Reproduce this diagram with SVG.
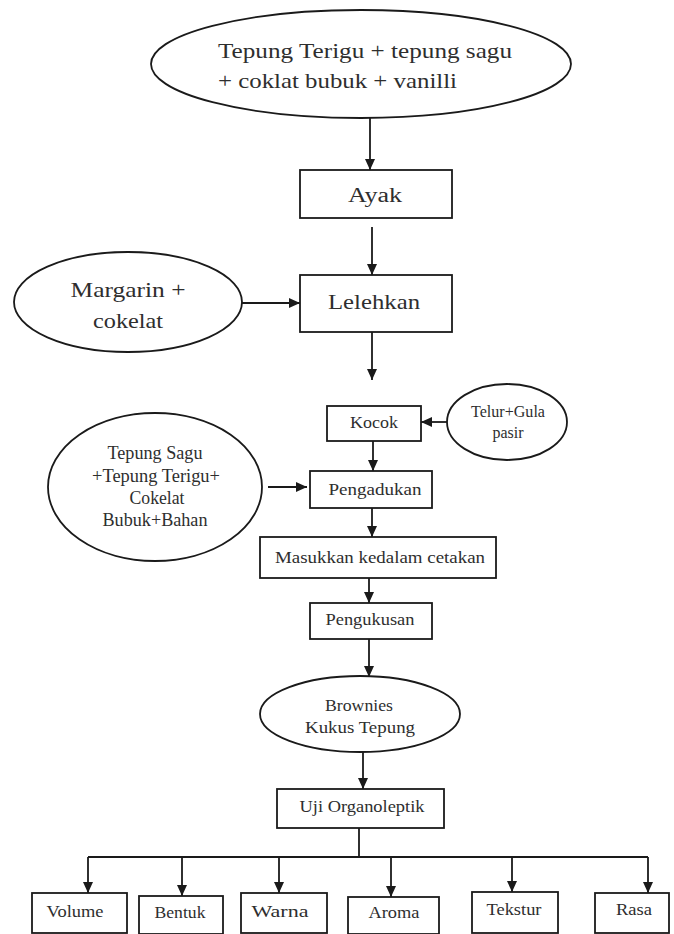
<svg xmlns="http://www.w3.org/2000/svg" width="674" height="934" viewBox="0 0 674 934">
<defs>
<marker id="ah" markerUnits="userSpaceOnUse" markerWidth="12" markerHeight="12" viewBox="0 0 12 12" refX="11" refY="6" orient="auto">
<path d="M0,1 L11,6 L0,11 Z" fill="#1a1a1a"/>
</marker>
<style>
.s{fill:#fff;stroke:#1a1a1a;stroke-width:1.8}
.t{font-family:"Liberation Serif","DejaVu Serif",serif;fill:#2e2e2e;text-anchor:middle}
.l{fill:none;stroke:#1a1a1a;stroke-width:1.8}
.a{fill:none;stroke:#1a1a1a;stroke-width:1.8;marker-end:url(#ah)}
</style>
</defs>
<rect width="674" height="934" fill="#fff"/>
<g id="connectors">
<line class="a" x1="370" y1="118" x2="370" y2="170"/>
<line class="a" x1="372" y1="227" x2="372" y2="275"/>
<line class="a" x1="242" y1="303" x2="300" y2="303"/>
<line class="a" x1="372" y1="332" x2="372" y2="380"/>
<line class="a" x1="447" y1="422" x2="421" y2="422"/>
<line class="a" x1="373" y1="441" x2="373" y2="471"/>
<line class="a" x1="268" y1="487" x2="307" y2="487"/>
<line class="a" x1="372" y1="508" x2="372" y2="537"/>
<line class="a" x1="369" y1="577" x2="369" y2="603"/>
<line class="a" x1="369" y1="639" x2="369" y2="677"/>
<line class="a" x1="363" y1="752" x2="363" y2="789"/>
<line class="l" x1="359" y1="828" x2="359" y2="857"/>
<line class="l" x1="88" y1="857" x2="648" y2="857"/>
<line class="a" x1="88" y1="857" x2="88" y2="893"/>
<line class="a" x1="182" y1="857" x2="182" y2="896"/>
<line class="a" x1="279" y1="857" x2="279" y2="893"/>
<line class="a" x1="391" y1="857" x2="391" y2="897"/>
<line class="a" x1="512" y1="857" x2="512" y2="892"/>
<line class="a" x1="648" y1="857" x2="648" y2="893"/>
</g>
<g id="n-bahan">
<ellipse class="s" cx="361" cy="64" rx="210" ry="54"/>
<text class="t" x="218" y="58" font-size="22" style="text-anchor:start" textLength="294" lengthAdjust="spacingAndGlyphs">Tepung Terigu + tepung sagu</text>
<text class="t" x="218" y="88" font-size="22" style="text-anchor:start" textLength="239" lengthAdjust="spacingAndGlyphs">+ coklat bubuk + vanilli</text>
</g>
<g id="n-ayak">
<rect class="s" x="300" y="170" width="152" height="48"/>
<text class="t" x="375" y="202" font-size="20" textLength="54" lengthAdjust="spacingAndGlyphs">Ayak</text>
</g>
<g id="n-margarin">
<ellipse class="s" cx="128" cy="302" rx="114" ry="50"/>
<text class="t" x="128" y="297" font-size="21" textLength="115" lengthAdjust="spacingAndGlyphs">Margarin +</text>
<text class="t" x="128" y="328" font-size="21" textLength="70" lengthAdjust="spacingAndGlyphs">cokelat</text>
</g>
<g id="n-lelehkan">
<rect class="s" x="300" y="275" width="152" height="57"/>
<text class="t" x="374" y="309" font-size="21" textLength="92" lengthAdjust="spacingAndGlyphs">Lelehkan</text>
</g>
<g id="n-kocok">
<rect class="s" x="327" y="406" width="94" height="35"/>
<text class="t" x="374" y="428" font-size="17" textLength="48" lengthAdjust="spacingAndGlyphs">Kocok</text>
</g>
<g id="n-telur">
<ellipse class="s" cx="507" cy="422" rx="60" ry="38"/>
<text class="t" x="508" y="417" font-size="17" textLength="74" lengthAdjust="spacingAndGlyphs">Telur+Gula</text>
<text class="t" x="508" y="438" font-size="17" textLength="31" lengthAdjust="spacingAndGlyphs">pasir</text>
</g>
<g id="n-sagu">
<ellipse class="s" cx="155" cy="487" rx="107" ry="74"/>
<text class="t" x="155" y="459" font-size="18" textLength="95" lengthAdjust="spacingAndGlyphs">Tepung Sagu</text>
<text class="t" x="156" y="482" font-size="18" textLength="128" lengthAdjust="spacingAndGlyphs">+Tepung Terigu+</text>
<text class="t" x="157" y="504" font-size="18" textLength="55" lengthAdjust="spacingAndGlyphs">Cokelat</text>
<text class="t" x="155" y="526" font-size="18" textLength="105" lengthAdjust="spacingAndGlyphs">Bubuk+Bahan</text>
</g>
<g id="n-pengadukan">
<rect class="s" x="310" y="471" width="122" height="37"/>
<text class="t" x="375" y="495" font-size="17" textLength="93" lengthAdjust="spacingAndGlyphs">Pengadukan</text>
</g>
<g id="n-masukkan">
<rect class="s" x="260" y="537" width="236" height="41"/>
<text class="t" x="380" y="563" font-size="17" textLength="210" lengthAdjust="spacingAndGlyphs">Masukkan kedalam cetakan</text>
</g>
<g id="n-pengukusan">
<rect class="s" x="310" y="603" width="122" height="36"/>
<text class="t" x="370" y="625" font-size="17" textLength="89" lengthAdjust="spacingAndGlyphs">Pengukusan</text>
</g>
<g id="n-brownies">
<ellipse class="s" cx="360" cy="714" rx="100" ry="38"/>
<text class="t" x="359" y="711" font-size="17" textLength="68" lengthAdjust="spacingAndGlyphs">Brownies</text>
<text class="t" x="360" y="733" font-size="17" textLength="110" lengthAdjust="spacingAndGlyphs">Kukus Tepung</text>
</g>
<g id="n-uji">
<rect class="s" x="277" y="789" width="167" height="39"/>
<text class="t" x="362" y="812" font-size="17" textLength="125" lengthAdjust="spacingAndGlyphs">Uji Organoleptik</text>
</g>
<g id="n-volume">
<rect class="s" x="32" y="893" width="95" height="40"/>
<text class="t" x="75" y="917" font-size="17" textLength="57" lengthAdjust="spacingAndGlyphs">Volume</text>
</g>
<g id="n-bentuk">
<rect class="s" x="139" y="896" width="84" height="38"/>
<text class="t" x="180" y="918" font-size="17" textLength="51" lengthAdjust="spacingAndGlyphs">Bentuk</text>
</g>
<g id="n-warna">
<rect class="s" x="241" y="893" width="86" height="40"/>
<text class="t" x="280" y="917" font-size="17" textLength="57" lengthAdjust="spacingAndGlyphs">Warna</text>
</g>
<g id="n-aroma">
<rect class="s" x="348" y="897" width="91" height="37"/>
<text class="t" x="394" y="918" font-size="17" textLength="51" lengthAdjust="spacingAndGlyphs">Aroma</text>
</g>
<g id="n-tekstur">
<rect class="s" x="472" y="892" width="86" height="41"/>
<text class="t" x="514" y="915" font-size="17" textLength="55" lengthAdjust="spacingAndGlyphs">Tekstur</text>
</g>
<g id="n-rasa">
<rect class="s" x="595" y="893" width="74" height="40"/>
<text class="t" x="634" y="915" font-size="17" textLength="36" lengthAdjust="spacingAndGlyphs">Rasa</text>
</g>
</svg>
